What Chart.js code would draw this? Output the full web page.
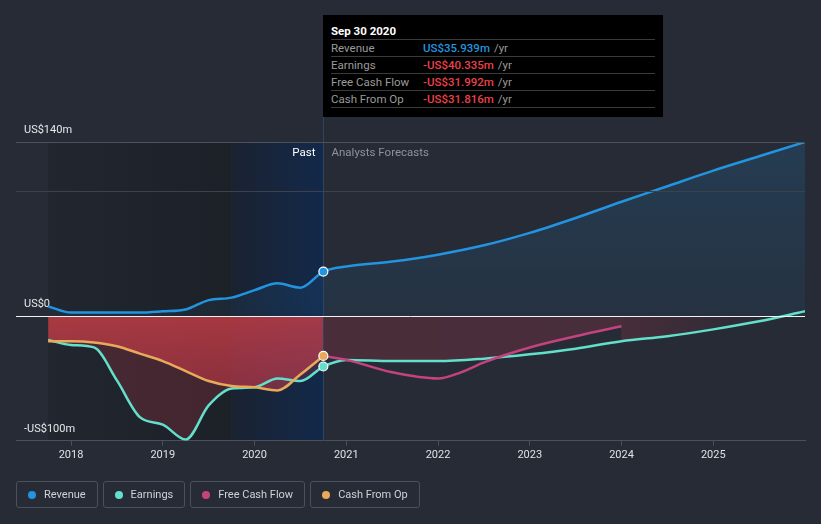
<!DOCTYPE html>
<html>
<head>
<meta charset="utf-8">
<script src="https://cdn.jsdelivr.net/npm/chart.js@4.4.0/dist/chart.umd.min.js"></script>
<style>
  body { margin: 0; background: #262b36; font-family: Roboto, "Noto Sans", sans-serif; }
  #wrap { position: relative; width: 821px; height: 524px; overflow: hidden; }
  #chart { position: absolute; left: 0; top: 0; }
  #tip { position: absolute; left: 323px; top: 15px; width: 340px; height: 102px; background: #000; color: #fff; font-size: 11.5px; }
  #tip .head { position: absolute; left: 8px; top: 9px; font-weight: bold; line-height: 14px; }
  #tip .rows { position: absolute; left: 8px; right: 8px; top: 24px; border-top: 1px solid #3b3b3b; }
  #tip .row { height: 16px; line-height: 16px; border-bottom: 1px solid #3b3b3b; display: flex; }
  #tip .lbl { width: 92px; color: #9a9a9a; }
  #tip .val { font-weight: 500; }
  #tip .unit { color: #9a9a9a; margin-left: 4px; }
  #legend { position: absolute; left: 16px; top: 481px; display: flex; gap: 5px; }
  .item { box-sizing: border-box; height: 27px; border: 1px solid #4a505c; border-radius: 3px; display: flex; align-items: center; padding: 0 11px 0 11px; color: #cfd2d6; font-size: 11px; }
  .dot { width: 8px; height: 8px; border-radius: 50%; margin-right: 8px; }
</style>
</head>
<body>
<div id="wrap">
  <canvas id="chart" width="821" height="524"></canvas>
  <div id="tip"></div>
  <div id="legend"></div>
</div>
<script>
// series names + colours
const seriesNames = ['Revenue', 'Earnings', 'Free Cash Flow', 'Cash From Op'];
const seriesColors = ['#2394df', '#62e0cc', '#c4437f', '#e9a95b'];

// x positions (years)
const pastYears = [2017.75, 2018, 2018.25, 2018.5, 2018.75, 2019, 2019.25, 2019.5, 2019.75, 2020, 2020.25, 2020.5, 2020.75];
const forecastYears = [2021, 2021.5, 2022, 2022.5, 2023, 2023.5, 2024, 2024.5, 2025, 2025.5, 2026];
const fcfYears = [2020.75, 2021, 2021.5, 2022, 2022.25, 2022.5, 2023, 2023.5, 2024];

// values in US$m
const revenuePast = [8, 3, 3, 3, 3, 4, 5.5, 13, 15, 21, 26.5, 23, 35.939];
const revenueForecast = [40, 44, 49.5, 57, 67, 79, 92, 104.5, 117, 128.5, 140];
const earningsPast = [-19, -23, -25, -51.5, -81, -87, -99, -71.6, -58, -57, -50, -52, -40.335];
const earningsForecast = [-35, -36, -36, -34, -30.5, -26, -20, -16, -10.5, -4, 4];
const fcfValues = [-31.992, -35, -45, -50, -45, -37, -25, -16, -8];
const cfoPast = [-20, -20, -21, -24, -30, -36, -44, -52, -56, -57, -59.5, -46.7, -31.816];

const xTicks = [2018, 2019, 2020, 2021, 2022, 2023, 2024, 2025];
const yTicks = [-100, 0, 100, 140];
const yTickLabels = { '-100': '-US$100m', '0': 'US$0', '100': '', '140': 'US$140m' };

const pastStart = 2017.75;
const highlightStart = 2019.75;
const pastEnd = 2020.75;

// tooltip text
const tipDate = 'Sep 30 2020';
const tipValues = ['US$35.939m', '-US$40.335m', '-US$31.992m', '-US$31.816m'];

const pts = (xs, ys) => xs.map((x, i) => ({ x: x, y: ys[i] }));
const revenue = pts(pastYears.concat(forecastYears), revenuePast.concat(revenueForecast));
const earnings = pts(pastYears.concat(forecastYears), earningsPast.concat(earningsForecast));
const fcf = pts(fcfYears, fcfValues);
const cfo = pts(pastYears, cfoPast);

const dotAt = r => ctx => (ctx.raw && ctx.raw.x === pastEnd ? r : 0);

function revenueFill(ctx) {
  const c = ctx.chart, a = c.chartArea;
  if (!a) return 'rgba(35,148,223,0.12)';
  const g = c.ctx.createLinearGradient(0, a.top, 0, c.scales.y.getPixelForValue(0));
  g.addColorStop(0, 'rgba(35,148,223,0.17)');
  g.addColorStop(1, 'rgba(35,148,223,0.07)');
  return g;
}
function earningsFill(ctx) {
  const c = ctx.chart, a = c.chartArea;
  if (!a) return 'rgba(210,55,75,0.22)';
  const x = c.scales.x;
  const g = c.ctx.createLinearGradient(a.left, 0, a.right, 0);
  const p = v => Math.min(1, Math.max(0, (x.getPixelForValue(v) - a.left) / (a.right - a.left)));
  g.addColorStop(0, 'rgba(210,55,75,0.22)');
  g.addColorStop(p(2024), 'rgba(210,55,75,0.2)');
  g.addColorStop(p(2025.3), 'rgba(210,55,75,0.05)');
  g.addColorStop(1, 'rgba(210,55,75,0.0)');
  return g;
}
function cfoFill(ctx) {
  const c = ctx.chart, a = c.chartArea;
  if (!a) return 'rgba(230,70,75,0.58)';
  const y = c.scales.y;
  const g = c.ctx.createLinearGradient(0, y.getPixelForValue(0), 0, y.getPixelForValue(-60));
  g.addColorStop(0, 'rgba(232,68,74,0.6)');
  g.addColorStop(1, 'rgba(222,62,78,0.45)');
  return g;
}

const regions = {
  id: 'regions',
  beforeDraw(chart) {
    const { ctx, chartArea: a, scales: { x } } = chart;
    const x0 = x.getPixelForValue(pastStart);
    const x1 = x.getPixelForValue(highlightStart);
    const x2 = x.getPixelForValue(pastEnd);
    ctx.save();
    let g = ctx.createLinearGradient(x0, 0, x1, 0);
    g.addColorStop(0, '#22262f');
    g.addColorStop(1, '#1c2027');
    ctx.fillStyle = g;
    ctx.fillRect(x0, a.top, x1 - x0, a.bottom - a.top);
    g = ctx.createLinearGradient(x1, 0, x2, 0);
    g.addColorStop(0, '#1a2231');
    g.addColorStop(1, '#13294a');
    ctx.fillStyle = g;
    ctx.fillRect(x1, a.top, x2 - x1, a.bottom - a.top);
    ctx.restore();
  },
  beforeDatasetsDraw(chart) {
    const { ctx, chartArea: a, scales: { x } } = chart;
    const x2 = Math.round(x.getPixelForValue(pastEnd)) + 0.5;
    ctx.save();
    ctx.strokeStyle = '#2e4463';
    ctx.lineWidth = 1;
    ctx.beginPath();
    ctx.moveTo(x2, 117);
    ctx.lineTo(x2, a.bottom);
    ctx.stroke();
    ctx.font = '11.5px Roboto, sans-serif';
    ctx.textBaseline = 'middle';
    ctx.textAlign = 'right';
    ctx.fillStyle = '#ffffff';
    ctx.fillText('Past', x2 - 8, 153);
    ctx.textAlign = 'left';
    ctx.fillStyle = '#8d939c';
    ctx.fillText('Analysts Forecasts', x2 + 8, 153);
    ctx.restore();
  }
};

const common = {
  borderWidth: 2.5,
  cubicInterpolationMode: 'monotone',
  pointBorderColor: '#ffffff',
  pointBorderWidth: 1.2,
  pointHoverRadius: 0
};

new Chart(document.getElementById('chart'), {
  type: 'line',
  data: {
    datasets: [
      Object.assign({}, common, { label: seriesNames[0], data: revenue, borderColor: seriesColors[0], pointBackgroundColor: seriesColors[0], pointRadius: dotAt(4.5), fill: 'origin', backgroundColor: revenueFill, order: 0 }),
      Object.assign({}, common, { label: seriesNames[1], data: earnings, borderColor: seriesColors[1], pointBackgroundColor: seriesColors[1], pointRadius: dotAt(4.5), fill: 'origin', backgroundColor: earningsFill, order: 3 }),
      Object.assign({}, common, { label: seriesNames[2], data: fcf, borderColor: seriesColors[2], pointBackgroundColor: seriesColors[2], pointRadius: 0, fill: { target: 1, above: '#262b36', below: 'rgba(0,0,0,0)' }, order: 2 }),
      Object.assign({}, common, { label: seriesNames[3], data: cfo, borderColor: seriesColors[3], pointBackgroundColor: seriesColors[3], pointRadius: dotAt(4.5), fill: 'origin', backgroundColor: cfoFill, order: 1 })
    ]
  },
  options: {
    responsive: false,
    animation: false,
    layout: { padding: { left: 0, right: 16, top: 142, bottom: 59 } },
    plugins: {
      legend: { display: false },
      tooltip: { enabled: false },
      filler: { drawTime: 'beforeDatasetsDraw' }
    },
    scales: {
      x: {
        type: 'linear',
        min: 2017.4,
        max: 2026,
        afterBuildTicks: s => { s.ticks = xTicks.map(v => ({ value: v })); },
        ticks: { color: '#dfe1e4', font: { family: 'Roboto', size: 11 }, padding: 3, maxRotation: 0, autoSkip: false, callback: v => String(v) },
        grid: { drawOnChartArea: false, color: '#4a505c', tickLength: 5 },
        border: { color: '#4a505c' }
      },
      y: {
        min: -100,
        max: 140,
        afterBuildTicks: s => { s.ticks = yTicks.map(v => ({ value: v })); },
        ticks: { mirror: true, padding: 8, labelOffset: -12, color: '#e6e8ea', font: { family: 'Roboto', size: 11 }, callback: v => yTickLabels[String(v)] },
        grid: {
          drawTicks: false,
          z: 1,
          color: c => c.tick.value === 0 ? '#f2f2f2' : c.tick.value === 140 ? '#4b515d' : c.tick.value === 100 ? '#3b414d' : 'rgba(0,0,0,0)'
        },
        border: { display: false }
      }
    }
  },
  plugins: [regions]
});

// tooltip box
const tip = document.getElementById('tip');
let html = '<div class="head">' + tipDate + '</div><div class="rows">';
seriesNames.forEach((n, i) => {
  const col = tipValues[i].startsWith('-') ? '#ec4149' : seriesColors[0];
  html += '<div class="row"><span class="lbl">' + n + '</span><span class="val" style="color:' + col + '">' + tipValues[i] + '</span><span class="unit">/yr</span></div>';
});
tip.innerHTML = html + '</div>';

// legend
const legend = document.getElementById('legend');
seriesNames.forEach((n, i) => {
  legend.innerHTML += '<div class="item"><span class="dot" style="background:' + seriesColors[i] + '"></span>' + n + '</div>';
});
</script>
</body>
</html>
